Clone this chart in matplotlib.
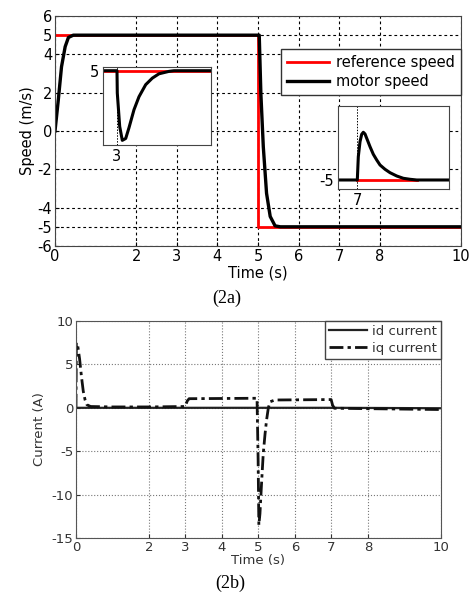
import matplotlib
matplotlib.use("Agg")
import matplotlib.pyplot as plt

# ---- speed plot (2a) ----
ref_t = [0, 5, 5, 10]
ref_speed = [5, 5, -5, -5]

motor_t = [0, 0.08, 0.16, 0.25, 0.33, 0.45, 5.0, 5.03, 5.07, 5.13, 5.21, 5.30, 5.42, 5.55, 10]
motor_speed = [0, 1.6, 3.35, 4.4, 4.88, 5.0, 5.0, 5.0, 1.96, -0.82, -3.25, -4.46, -4.95, -5.0, -5.0]

# zoom near t = 3 (load step)
zoom1_t = [2.93, 3.0, 3.0015, 3.0135, 3.0265, 3.0435, 3.06, 3.085, 3.11, 3.1435,
           3.1765, 3.21, 3.26, 3.285, 3.47]
zoom1_speed = [5.0, 5.0, 4.76, 4.40, 4.25, 4.27, 4.386, 4.58, 4.72, 4.85,
               4.92, 4.967, 4.993, 5.0, 5.0]

# zoom near t = 7 (load removal)
zoom2_t = [6.905, 7.0015, 7.0065, 7.015, 7.0235, 7.0315, 7.04, 7.0485, 7.065,
           7.0815, 7.0985, 7.115, 7.14, 7.165, 7.1985, 7.2315, 7.265, 7.2985, 7.46]
zoom2_speed = [-5.0, -5.0, -4.767, -4.617, -4.543, -4.523, -4.54, -4.583, -4.667,
               -4.743, -4.80, -4.85, -4.893, -4.927, -4.96, -4.983, -4.993, -5.0, -5.0]

# ---- current plot (2b) ----
cur_t = [0, 0.01, 0.05, 0.1, 0.15, 0.2, 0.25, 0.3, 0.4, 1.0, 2.0, 2.99, 3.05, 3.1,
         4.96, 4.99, 5.01, 5.04, 5.08, 5.13, 5.18, 5.22, 5.27, 5.32, 5.45, 6.99,
         7.03, 7.08, 8.0, 9.0, 10.0]
iq_current = [0, 7.5, 7.1, 5.6, 3.6, 1.9, 0.9, 0.35, 0.15, 0.1, 0.1, 0.15, 0.8, 1.05,
              1.1, -6.0, -13.5, -12.2, -9.0, -5.3, -3.0, -1.45, 0.0, 0.7, 0.9, 0.95,
              0.3, -0.05, -0.1, -0.15, -0.2]
id_t = [0, 3, 5, 7, 10]
id_current = [0, 0, 0, 0, -0.05]

time_ticks = [0, 2, 3, 4, 5, 6, 7, 8, 10]
speed_ticks = [-6, -5, -4, -2, 0, 2, 4, 5, 6]
current_ticks = [-15, -10, -5, 0, 5, 10]


def main():
    plt.rcParams["font.family"] = "DejaVu Sans"
    plt.rcParams["axes.unicode_minus"] = False
    fig = plt.figure(figsize=(4.69, 5.93), dpi=100)

    # top: speed
    ax = fig.add_axes([0.1173, 0.5852, 0.8657, 0.3878])
    ax.plot(ref_t, ref_speed, color="#ff0000", lw=2, label="reference speed")
    ax.plot(motor_t, motor_speed, color="black", lw=2.4, label="motor speed")
    ax.set_xlim(0, 10)
    ax.set_ylim(-6, 6)
    ax.set_xticks(time_ticks)
    ax.set_yticks(speed_ticks)
    ax.grid(True, color="black", linestyle=(0, (2.5, 2.5)), lw=0.8)
    ax.tick_params(direction="in", length=3, labelsize=10.5, pad=2)
    for s in ax.spines.values():
        s.set_color("#444444")
    ax.set_xlabel("Time (s)", fontsize=10.5, labelpad=1)
    ax.set_ylabel("Speed (m/s)", fontsize=10.5, labelpad=2)
    leg = ax.legend(loc="upper right", bbox_to_anchor=(1.0, 0.8565), fontsize=10.5,
                    fancybox=False, framealpha=1, edgecolor="#333333",
                    borderaxespad=0, handlelength=2.9, handletextpad=0.5,
                    labelspacing=0.3, borderpad=0.4)
    leg.get_frame().set_linewidth(1.0)

    ins1 = fig.add_axes([0.2196, 0.7555, 0.2303, 0.1315])
    ins1.plot([2.93, 3.47], [5, 5], color="#ff0000", lw=2)
    ins1.plot(zoom1_t, zoom1_speed, color="black", lw=2.2)
    ins1.set_xlim(2.93, 3.47)
    ins1.set_ylim(4.2, 5.04)
    ins1.set_xticks([3])
    ins1.set_yticks([5])
    ins1.grid(True, color="black", linestyle=(0, (1.5, 1.5)), lw=0.7)
    ins1.tick_params(length=0, labelsize=10.5, pad=3)
    for s in ins1.spines.values():
        s.set_color("#444444")

    ins2 = fig.add_axes([0.7207, 0.6813, 0.2367, 0.14])
    ins2.plot([7.0, 7.3], [-5, -5], color="#ff0000", lw=2)
    ins2.plot(zoom2_t, zoom2_speed, color="black", lw=2.2)
    ins2.set_xlim(6.905, 7.46)
    ins2.set_ylim(-5.09, -4.26)
    ins2.set_xticks([7])
    ins2.set_yticks([-5])
    ins2.grid(True, color="black", linestyle=(0, (1.5, 1.5)), lw=0.7)
    ins2.tick_params(length=0, labelsize=10.5, pad=3)
    for s in ins2.spines.values():
        s.set_color("#444444")

    fig.text(0.484, 0.497, "(2a)", family="Liberation Serif", fontsize=13,
             ha="center", va="center")

    # bottom: currents
    ax2 = fig.add_axes([0.162, 0.0927, 0.7783, 0.366])
    ax2.plot(id_t, id_current, color="#222222", lw=1.6, label="id current")
    ax2.plot(cur_t, iq_current, color="#111111", lw=2.0,
             linestyle=(0, (5, 1.5, 1.2, 1.5)), label="iq current")
    ax2.set_xlim(0, 10)
    ax2.set_ylim(-15, 10)
    ax2.set_xticks(time_ticks)
    ax2.set_yticks(current_ticks)
    ax2.grid(True, color="#777777", linestyle=":", lw=0.8)
    ax2.tick_params(direction="in", length=3, labelsize=9.5, pad=2,
                    colors="#333333")
    for s in ax2.spines.values():
        s.set_color("#555555")
    ax2.set_xlabel("Time (s)", fontsize=9.5, color="#333333", labelpad=0)
    ax2.set_ylabel("Current (A)", fontsize=9.5, color="#333333", labelpad=4)
    leg2 = ax2.legend(loc="upper right", fontsize=9.5, fancybox=False,
                      framealpha=1, edgecolor="#444444", borderaxespad=0,
                      handlelength=2.9, handletextpad=0.4, labelspacing=0.3,
                      borderpad=0.3)
    for t in leg2.get_texts():
        t.set_color("#333333")

    fig.text(0.49, 0.017, "(2b)", family="Liberation Serif", fontsize=13,
             ha="center", va="center")

    fig.savefig("out.png", dpi=100)


if __name__ == "__main__":
    main()
